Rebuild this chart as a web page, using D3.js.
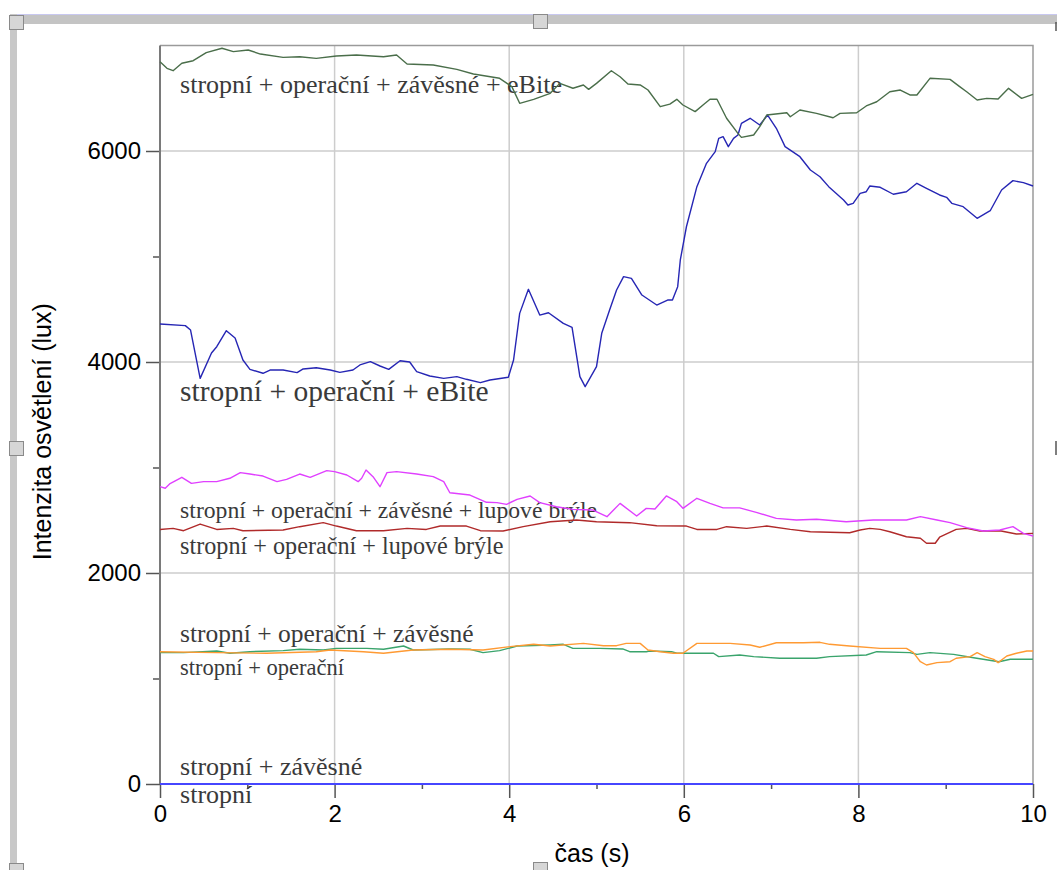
<!DOCTYPE html>
<html>
<head>
<meta charset="utf-8">
<script src="https://cdn.jsdelivr.net/npm/d3@7"></script>
<style>
  body { margin: 0; background: #fff; }
  svg { display: block; }
</style>
</head>
<body>
<div id="chart"></div>
<script>
// measured series, [time (s), illuminance (lux)]
const opZavEbite = [
  [0.00, 6846], [0.08, 6784], [0.15, 6761], [0.25, 6832], [0.38, 6856], [0.53, 6932],
  [0.71, 6974], [0.84, 6942], [1.01, 6957], [1.15, 6919], [1.41, 6887], [1.60, 6894],
  [1.79, 6878], [2.02, 6900], [2.25, 6910], [2.56, 6894], [2.71, 6910], [2.83, 6825],
  [3.13, 6815], [3.40, 6774], [3.59, 6730], [3.89, 6689], [4.03, 6610], [4.12, 6452],
  [4.28, 6490], [4.47, 6547], [4.58, 6641], [4.73, 6595], [4.85, 6626], [4.91, 6584],
  [5.00, 6641], [5.17, 6761], [5.27, 6704], [5.36, 6635], [5.50, 6626], [5.59, 6578],
  [5.73, 6420], [5.84, 6445], [5.92, 6490], [5.99, 6436], [6.13, 6373], [6.22, 6436],
  [6.30, 6490], [6.38, 6490], [6.49, 6310], [6.62, 6167], [6.66, 6129], [6.80, 6152],
  [6.87, 6231], [6.95, 6341], [7.18, 6363], [7.22, 6325], [7.33, 6389], [7.52, 6357],
  [7.71, 6315], [7.79, 6357], [7.98, 6363], [8.09, 6427], [8.21, 6467], [8.36, 6562],
  [8.48, 6578], [8.59, 6531], [8.67, 6531], [8.82, 6689], [9.05, 6679], [9.16, 6610],
  [9.24, 6562], [9.36, 6483], [9.47, 6499], [9.60, 6493], [9.72, 6594], [9.87, 6499],
  [10.00, 6536]
];
const opEbite = [
  [0.00, 4360], [0.29, 4345], [0.35, 4303], [0.46, 3845], [0.59, 4085], [0.65, 4145],
  [0.76, 4297], [0.86, 4227], [0.95, 4019], [1.03, 3930], [1.18, 3893], [1.26, 3924],
  [1.41, 3924], [1.57, 3899], [1.64, 3934], [1.79, 3946], [1.95, 3924], [2.06, 3902],
  [2.21, 3924], [2.29, 3972], [2.41, 4003], [2.52, 3962], [2.62, 3930], [2.75, 4012],
  [2.86, 4000], [2.94, 3908], [3.09, 3867], [3.25, 3845], [3.40, 3861], [3.51, 3836],
  [3.67, 3804], [3.78, 3829], [3.99, 3855], [4.05, 4019], [4.12, 4461], [4.22, 4689],
  [4.35, 4445], [4.45, 4467], [4.62, 4366], [4.72, 4328], [4.81, 3861], [4.87, 3766],
  [5.00, 3956], [5.06, 4272], [5.15, 4493], [5.23, 4682], [5.31, 4809], [5.40, 4793],
  [5.52, 4635], [5.69, 4540], [5.82, 4588], [5.87, 4588], [5.93, 4714], [5.96, 4967],
  [6.03, 5282], [6.15, 5662], [6.26, 5883], [6.36, 5994], [6.40, 6120], [6.45, 6136],
  [6.51, 6041], [6.57, 6120], [6.62, 6152], [6.66, 6262], [6.76, 6310], [6.87, 6246],
  [6.96, 6341], [7.06, 6215], [7.16, 6041], [7.33, 5946], [7.45, 5820], [7.56, 5756],
  [7.66, 5662], [7.83, 5536], [7.88, 5488], [7.94, 5504], [8.02, 5599], [8.09, 5614],
  [8.13, 5668], [8.25, 5656], [8.40, 5590], [8.55, 5614], [8.67, 5694], [8.78, 5646],
  [8.93, 5583], [9.01, 5561], [9.07, 5504], [9.20, 5472], [9.36, 5362], [9.51, 5434],
  [9.64, 5630], [9.77, 5719], [9.89, 5700], [10.00, 5668]
];
const opZavLupy = [
  [0.00, 2818], [0.06, 2803], [0.11, 2844], [0.25, 2907], [0.36, 2850], [0.50, 2866],
  [0.65, 2866], [0.80, 2898], [0.92, 2951], [1.03, 2938], [1.18, 2919], [1.34, 2866],
  [1.45, 2888], [1.60, 2938], [1.72, 2907], [1.91, 2970], [2.00, 2961], [2.14, 2929],
  [2.27, 2866], [2.31, 2898], [2.36, 2976], [2.44, 2913], [2.52, 2818], [2.60, 2951],
  [2.71, 2961], [2.94, 2938], [3.13, 2913], [3.25, 2866], [3.32, 2761], [3.55, 2739],
  [3.74, 2670], [3.86, 2667], [3.97, 2651], [4.09, 2698], [4.24, 2730], [4.35, 2667],
  [4.54, 2628], [4.73, 2603], [4.96, 2597], [5.12, 2534], [5.27, 2660], [5.46, 2540],
  [5.57, 2613], [5.67, 2607], [5.80, 2730], [5.92, 2676], [5.99, 2613], [6.15, 2708],
  [6.30, 2660], [6.45, 2617], [6.64, 2617], [6.84, 2572], [7.06, 2518], [7.29, 2502],
  [7.52, 2509], [7.86, 2486], [8.17, 2502], [8.55, 2502], [8.71, 2534], [8.90, 2502],
  [9.05, 2477], [9.24, 2430], [9.43, 2398], [9.62, 2408], [9.77, 2439], [9.89, 2376],
  [10.00, 2351]
];
const opLupy = [
  [0.00, 2413], [0.15, 2423], [0.27, 2401], [0.46, 2464], [0.65, 2413], [0.84, 2423],
  [0.95, 2401], [1.41, 2408], [1.60, 2439], [1.87, 2477], [2.02, 2445], [2.25, 2401],
  [2.56, 2401], [2.83, 2423], [3.05, 2413], [3.21, 2445], [3.51, 2445], [3.67, 2401],
  [3.93, 2398], [4.16, 2439], [4.47, 2486], [4.77, 2502], [5.00, 2486], [5.38, 2477],
  [5.69, 2448], [6.03, 2445], [6.15, 2413], [6.38, 2413], [6.49, 2439], [6.72, 2423],
  [6.95, 2445], [7.22, 2413], [7.45, 2391], [7.90, 2382], [8.02, 2408], [8.13, 2423],
  [8.25, 2413], [8.36, 2391], [8.55, 2344], [8.71, 2329], [8.78, 2282], [8.88, 2282],
  [8.93, 2339], [9.12, 2413], [9.24, 2423], [9.39, 2398], [9.62, 2401], [9.81, 2370],
  [10.00, 2376]
];
const opZav = [
  [0.00, 1254], [0.65, 1245], [1.22, 1239], [1.79, 1254], [1.95, 1270], [2.33, 1254],
  [2.56, 1239], [2.90, 1270], [3.32, 1277], [3.70, 1270], [4.01, 1302], [4.28, 1324],
  [4.47, 1308], [4.85, 1333], [5.08, 1311], [5.23, 1311], [5.34, 1333], [5.50, 1333],
  [5.59, 1270], [5.73, 1254], [5.88, 1239], [5.99, 1239], [6.15, 1333], [6.53, 1333],
  [6.76, 1318], [6.87, 1296], [7.06, 1339], [7.37, 1339], [7.56, 1343], [7.67, 1324],
  [7.90, 1308], [8.25, 1286], [8.55, 1286], [8.63, 1245], [8.71, 1159], [8.78, 1128],
  [8.90, 1150], [9.05, 1159], [9.12, 1192], [9.28, 1207], [9.36, 1245], [9.45, 1207],
  [9.55, 1182], [9.60, 1150], [9.70, 1213], [9.81, 1239], [9.93, 1261], [10.00, 1261]
];
const op = [
  [0.00, 1245], [0.27, 1245], [0.65, 1261], [0.80, 1239], [1.03, 1254], [1.41, 1264],
  [1.60, 1277], [1.87, 1270], [2.02, 1286], [2.37, 1286], [2.56, 1277], [2.79, 1308],
  [2.90, 1270], [3.32, 1280], [3.55, 1277], [3.70, 1245], [3.89, 1264], [4.09, 1308],
  [4.47, 1318], [4.62, 1324], [4.73, 1286], [5.04, 1286], [5.30, 1280], [5.38, 1254],
  [5.57, 1254], [5.61, 1261], [5.86, 1254], [5.92, 1239], [6.34, 1239], [6.40, 1207],
  [6.64, 1223], [6.80, 1207], [7.10, 1192], [7.52, 1192], [7.67, 1207], [8.09, 1223],
  [8.21, 1254], [8.59, 1245], [8.67, 1229], [8.82, 1245], [9.09, 1229], [9.32, 1197],
  [9.61, 1159], [9.74, 1182], [10.00, 1182]
];
const zav = [[0, 0], [10, 0]];
const stropOnly = [[0, 0], [10, 0]];

const xTicks = [0, 2, 4, 6, 8, 10];
const xMinorTicks = [1, 3, 5, 7, 9];
const yTicks = [0, 2000, 4000, 6000];
const yMinorTicks = [1000, 3000, 5000];

const series = [
  {data: op, color: '#3aa46c'},
  {data: opZav, color: '#ff9a33'},
  {data: opLupy, color: '#b02a2a'},
  {data: opZavLupy, color: '#e040ff'},
  {data: opEbite, color: '#2626b4'},
  {data: opZavEbite, color: '#4a6e4a'},
  {data: zav, color: '#4646ff'},
  {data: stropOnly, color: '#4646ff'},
];

// annotation text, placed in data units
const labelLayout = [
  {text: 'stropní + operační + závěsné + eBite', t: 0.23, lux: 6553, size: 26},
  {text: 'stropní + operační + eBite', t: 0.23, lux: 3633, size: 29.5},
  {text: 'stropní + operační + závěsné + lupové brýle', t: 0.23, lux: 2521, size: 23.7},
  {text: 'stropní + operační + lupové brýle', t: 0.23, lux: 2180, size: 24.2},
  {text: 'stropní + operační + závěsné', t: 0.23, lux: 1349, size: 25.5},
  {text: 'stropní + operační', t: 0.23, lux: 1033, size: 22.5},
  {text: 'stropní + závěsné', t: 0.23, lux: 85, size: 26},
  {text: 'stropní', t: 0.23, lux: -180, size: 26},
];

const W = 1057, H = 870;
const svg = d3.select('#chart').append('svg')
    .attr('width', W)
    .attr('height', H);

// window frame around the graph
svg.append('rect').attr('x', 10).attr('y', 14).attr('width', W - 10).attr('height', 10)
    .attr('fill', '#c4c4c4');
svg.append('line').attr('x1', 10).attr('x2', W).attr('y1', 14.5).attr('y2', 14.5)
    .attr('stroke', '#c8c8f0');
svg.append('rect').attr('x', 10).attr('y', 14).attr('width', 7).attr('height', H - 14)
    .attr('fill', '#c8c8c8');
[[9, 15], [533, 14], [9, 441], [533, 862], [9, 863]].forEach(([hx, hy]) => {
  svg.append('rect').attr('x', hx + 0.5).attr('y', hy + 0.5).attr('width', 14).attr('height', 14)
      .attr('fill', '#d6d6d6').attr('stroke', '#8a8a8a');
});
svg.append('line').attr('x1', 1056).attr('x2', 1056).attr('y1', 22).attr('y2', 31)
    .attr('stroke', '#555').attr('stroke-width', 1.5);
svg.append('line').attr('x1', 1056).attr('x2', 1056).attr('y1', 441).attr('y2', 455)
    .attr('stroke', '#555').attr('stroke-width', 1.5);

const x = d3.scaleLinear().domain([0, 10]).range([160, 1033]);
const y = d3.scaleLinear().domain([0, 7000]).range([784, 45.5]);

// grid
svg.append('g').selectAll('line').data(xTicks.slice(1, -1)).join('line')
    .attr('x1', (d) => x(d)).attr('x2', (d) => x(d))
    .attr('y1', y(7000)).attr('y2', y(0))
    .attr('stroke', '#cdcdcd').attr('stroke-width', 1.5);
svg.append('g').selectAll('line').data(yTicks.slice(1)).join('line')
    .attr('x1', x(0)).attr('x2', x(10))
    .attr('y1', (d) => y(d)).attr('y2', (d) => y(d))
    .attr('stroke', '#cdcdcd').attr('stroke-width', 1.5);

// top and right frame of the plot
svg.append('path')
    .attr('d', `M${x(0)},${y(7000)}H${x(10)}V${y(0)}`)
    .attr('fill', 'none').attr('stroke', '#9a9a9a').attr('stroke-width', 1.5);

// axes
const styleAxis = (g) => {
  g.select('.domain').remove();
  g.selectAll('line').attr('stroke', '#555').attr('stroke-width', 1.5);
  g.selectAll('text').attr('font-family', 'Arial, "Liberation Sans", sans-serif')
      .attr('font-size', 24).attr('fill', '#000');
};
svg.append('g').attr('transform', `translate(${x(0)},0)`)
    .call(d3.axisLeft(y).tickValues(yTicks).tickSize(14).tickPadding(5).tickFormat(d3.format('d')))
    .call(styleAxis);
svg.append('g').attr('transform', `translate(${x(0)},0)`)
    .call(d3.axisLeft(y).tickValues(yMinorTicks).tickSize(7).tickFormat(''))
    .call(styleAxis);
svg.append('g').attr('transform', `translate(0,${y(0)})`)
    .call(d3.axisBottom(x).tickValues(xTicks).tickSize(14).tickPadding(7).tickFormat(d3.format('d')))
    .call(styleAxis);
svg.append('g').attr('transform', `translate(0,${y(0)})`)
    .call(d3.axisBottom(x).tickValues(xMinorTicks).tickSize(5).tickFormat(''))
    .call(styleAxis);
svg.append('line')
    .attr('x1', x(0)).attr('x2', x(0)).attr('y1', y(7000)).attr('y2', y(0))
    .attr('stroke', '#7a7a7a').attr('stroke-width', 2);

// axis titles
svg.append('text')
    .attr('transform', `translate(51,${(y(0) + y(7000)) / 2 + 17}) rotate(-90)`)
    .attr('text-anchor', 'middle')
    .attr('font-family', 'Arial, "Liberation Sans", sans-serif')
    .attr('font-size', 25)
    .text('Intenzita osvětlení (lux)');
svg.append('text')
    .attr('x', 592).attr('y', 862)
    .attr('text-anchor', 'middle')
    .attr('font-family', 'Arial, "Liberation Sans", sans-serif')
    .attr('font-size', 25)
    .text('čas (s)');

// series labels, under the lines
svg.append('g').selectAll('text').data(labelLayout).join('text')
    .attr('x', (d) => x(d.t))
    .attr('y', (d) => y(d.lux))
    .attr('font-family', '"Times New Roman", "Liberation Serif", serif')
    .attr('font-size', (d) => d.size)
    .attr('fill', '#3a3a3a')
    .text((d) => d.text);

// lines
const line = d3.line()
    .x((d) => x(d[0]))
    .y((d) => y(d[1]));
svg.append('g').selectAll('path').data(series).join('path')
    .attr('d', (d) => line(d.data))
    .attr('fill', 'none')
    .attr('stroke', (d) => d.color)
    .attr('stroke-width', (d) => (d.data.length === 2 ? 2 : 1.4))
    .attr('stroke-linejoin', 'round');
</script>
</body>
</html>
